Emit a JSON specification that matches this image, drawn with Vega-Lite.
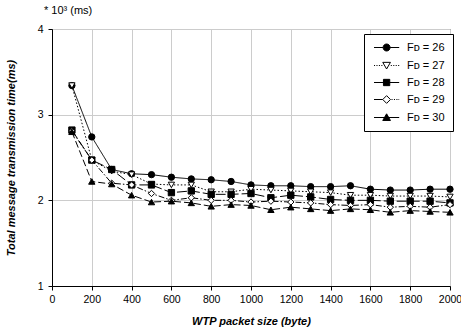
{
  "$schema": "https://vega.github.io/schema/vega-lite/v6.json",
  "width": 398,
  "height": 257,
  "autosize": {"type": "none"},
  "padding": {"left": 52, "top": 29, "right": 11, "bottom": 48},
  "background": "white",
  "config": {"font": "Liberation Sans", "view": {"stroke": "#404040", "strokeWidth": 1}},
  "title": {"text": "* 10³ (ms)", "anchor": "start", "frame": "group", "fontSize": 11, "fontWeight": "normal", "dx": -8, "offset": 8, "color": "black"},
  "data": {"values": [
    {"size": 100, "FD": "26", "time": 3.34}, {"size": 200, "FD": "26", "time": 2.74}, {"size": 300, "FD": "26", "time": 2.36}, {"size": 400, "FD": "26", "time": 2.31}, {"size": 500, "FD": "26", "time": 2.30}, {"size": 600, "FD": "26", "time": 2.27}, {"size": 700, "FD": "26", "time": 2.25}, {"size": 800, "FD": "26", "time": 2.24}, {"size": 900, "FD": "26", "time": 2.22}, {"size": 1000, "FD": "26", "time": 2.18}, {"size": 1100, "FD": "26", "time": 2.17}, {"size": 1200, "FD": "26", "time": 2.17}, {"size": 1300, "FD": "26", "time": 2.16}, {"size": 1400, "FD": "26", "time": 2.16}, {"size": 1500, "FD": "26", "time": 2.17}, {"size": 1600, "FD": "26", "time": 2.13}, {"size": 1700, "FD": "26", "time": 2.12}, {"size": 1800, "FD": "26", "time": 2.12}, {"size": 1900, "FD": "26", "time": 2.13}, {"size": 2000, "FD": "26", "time": 2.13},
    {"size": 100, "FD": "27", "time": 3.34}, {"size": 200, "FD": "27", "time": 2.47}, {"size": 300, "FD": "27", "time": 2.34}, {"size": 400, "FD": "27", "time": 2.30}, {"size": 500, "FD": "27", "time": 2.19}, {"size": 600, "FD": "27", "time": 2.18}, {"size": 700, "FD": "27", "time": 2.18}, {"size": 800, "FD": "27", "time": 2.10}, {"size": 900, "FD": "27", "time": 2.10}, {"size": 1000, "FD": "27", "time": 2.13}, {"size": 1100, "FD": "27", "time": 2.12}, {"size": 1200, "FD": "27", "time": 2.11}, {"size": 1300, "FD": "27", "time": 2.10}, {"size": 1400, "FD": "27", "time": 2.09}, {"size": 1500, "FD": "27", "time": 2.06}, {"size": 1600, "FD": "27", "time": 2.06}, {"size": 1700, "FD": "27", "time": 2.05}, {"size": 1800, "FD": "27", "time": 2.05}, {"size": 1900, "FD": "27", "time": 2.05}, {"size": 2000, "FD": "27", "time": 2.04},
    {"size": 100, "FD": "28", "time": 2.82}, {"size": 200, "FD": "28", "time": 2.47}, {"size": 300, "FD": "28", "time": 2.36}, {"size": 400, "FD": "28", "time": 2.18}, {"size": 500, "FD": "28", "time": 2.18}, {"size": 600, "FD": "28", "time": 2.09}, {"size": 700, "FD": "28", "time": 2.11}, {"size": 800, "FD": "28", "time": 2.07}, {"size": 900, "FD": "28", "time": 2.07}, {"size": 1000, "FD": "28", "time": 2.08}, {"size": 1100, "FD": "28", "time": 2.03}, {"size": 1200, "FD": "28", "time": 2.06}, {"size": 1300, "FD": "28", "time": 2.04}, {"size": 1400, "FD": "28", "time": 2.01}, {"size": 1500, "FD": "28", "time": 2.00}, {"size": 1600, "FD": "28", "time": 2.00}, {"size": 1700, "FD": "28", "time": 1.99}, {"size": 1800, "FD": "28", "time": 1.99}, {"size": 1900, "FD": "28", "time": 1.99}, {"size": 2000, "FD": "28", "time": 1.97},
    {"size": 100, "FD": "29", "time": 2.81}, {"size": 200, "FD": "29", "time": 2.47}, {"size": 300, "FD": "29", "time": 2.20}, {"size": 400, "FD": "29", "time": 2.18}, {"size": 500, "FD": "29", "time": 2.08}, {"size": 600, "FD": "29", "time": 2.00}, {"size": 700, "FD": "29", "time": 2.03}, {"size": 800, "FD": "29", "time": 2.00}, {"size": 900, "FD": "29", "time": 2.00}, {"size": 1000, "FD": "29", "time": 1.98}, {"size": 1100, "FD": "29", "time": 1.99}, {"size": 1200, "FD": "29", "time": 1.98}, {"size": 1300, "FD": "29", "time": 1.97}, {"size": 1400, "FD": "29", "time": 1.95}, {"size": 1500, "FD": "29", "time": 1.94}, {"size": 1600, "FD": "29", "time": 1.95}, {"size": 1700, "FD": "29", "time": 1.92}, {"size": 1800, "FD": "29", "time": 1.93}, {"size": 1900, "FD": "29", "time": 1.92}, {"size": 2000, "FD": "29", "time": 1.95},
    {"size": 100, "FD": "30", "time": 2.80}, {"size": 200, "FD": "30", "time": 2.22}, {"size": 300, "FD": "30", "time": 2.19}, {"size": 400, "FD": "30", "time": 2.06}, {"size": 500, "FD": "30", "time": 1.98}, {"size": 600, "FD": "30", "time": 1.99}, {"size": 700, "FD": "30", "time": 1.97}, {"size": 800, "FD": "30", "time": 1.93}, {"size": 900, "FD": "30", "time": 1.95}, {"size": 1000, "FD": "30", "time": 1.94}, {"size": 1100, "FD": "30", "time": 1.89}, {"size": 1200, "FD": "30", "time": 1.92}, {"size": 1300, "FD": "30", "time": 1.90}, {"size": 1400, "FD": "30", "time": 1.88}, {"size": 1500, "FD": "30", "time": 1.90}, {"size": 1600, "FD": "30", "time": 1.89}, {"size": 1700, "FD": "30", "time": 1.86}, {"size": 1800, "FD": "30", "time": 1.88}, {"size": 1900, "FD": "30", "time": 1.87}, {"size": 2000, "FD": "30", "time": 1.86}
  ]},
  "encoding": {
    "x": {"field": "size", "type": "quantitative", "scale": {"domain": [0, 2000], "nice": false},
      "axis": {"values": [0, 200, 400, 600, 800, 1000, 1200, 1400, 1600, 1800, 2000], "format": "d", "title": "WTP packet size (byte)", "titleFontStyle": "italic", "titleFontWeight": "bold", "titleFontSize": 11, "titleColor": "black", "labelFontSize": 10.5, "labelColor": "black", "labelFlush": false, "domainColor": "black", "tickColor": "black", "tickSize": 4, "labelPadding": 4, "titlePadding": 11, "grid": true, "gridColor": "#cccccc"}},
    "y": {"field": "time", "type": "quantitative", "scale": {"domain": [1, 4], "nice": false, "zero": false},
      "axis": {"values": [1, 2, 3, 4], "title": "Total message transmission time(ms)", "titleFontStyle": "italic", "titleFontWeight": "bold", "titleFontSize": 11, "titleColor": "black", "labelFontSize": 10.5, "labelColor": "black", "domainColor": "black", "tickColor": "black", "tickSize": 4, "labelPadding": 5, "titlePadding": 21, "grid": true, "gridColor": "#cccccc"}}
  },
  "layer": [
    {
      "mark": {"type": "line", "strokeWidth": 1, "color": "black"},
      "encoding": {
        "detail": {"field": "FD", "type": "nominal"},
        "strokeDash": {"condition": [
          {"test": "datum.FD === '27'", "value": [1.5, 2]},
          {"test": "datum.FD === '28'", "value": [10, 3]},
          {"test": "datum.FD === '29'", "value": [6, 2, 1.5, 2]},
          {"test": "datum.FD === '30'", "value": [7, 3]}
        ], "value": [1, 0]}
      }
    },
    {
      "mark": {"type": "point", "filled": true, "stroke": "black", "strokeWidth": 1, "size": 40, "opacity": 1},
      "encoding": {
        "shape": {"condition": [
          {"test": "datum.FD === '27'", "value": "triangle-down"},
          {"test": "datum.FD === '28'", "value": "square"},
          {"test": "datum.FD === '29'", "value": "diamond"},
          {"test": "datum.FD === '30'", "value": "triangle-up"}
        ], "value": "circle"},
        "fill": {"condition": {"test": "datum.FD === '27' || datum.FD === '29'", "value": "white"}, "value": "black"}
      }
    },
    {
      "transform": [{"filter": "datum.size < 0"}],
      "mark": {"type": "point", "filled": true, "stroke": "black", "strokeWidth": 1, "size": 49, "opacity": 1},
      "encoding": {
        "shape": {"field": "FD", "type": "nominal",
          "scale": {"domain": ["26", "27", "28", "29", "30"], "range": [
            "M-1,0H1.6M3.6,0H6.2M1.6,0A1,1,0,1,1,3.6,0A1,1,0,1,1,1.6,0Z",
            "M-1,0h0.3M-0.3,0h0.3M0.4,0h0.3M1.1,0h0.3M3.8,0h0.3M4.5,0h0.3M5.2,0h0.3M5.9,0h0.3M1.5,-0.9L3.7,-0.9L2.6,1Z",
            "M-1,0H6.2M1.7,-0.9H3.5V0.9H1.7Z",
            "M-1,0H1.5M4,0h0.3M4.7,0h0.3M5.4,0h0.3M6,0h0.2M1.5,0L2.6,-1.1L3.7,0L2.6,1.1Z",
            "M-1,0H6.2M1.5,0.85L3.7,0.85L2.6,-1.05Z"
          ]},
          "legend": {"orient": "none", "legendX": 312, "legendY": 5, "title": null, "fillColor": "white", "strokeColor": "black", "padding": 8, "symbolSize": 49, "symbolStrokeWidth": 1, "symbolOpacity": 1, "labelFontSize": 11, "labelColor": "black", "rowPadding": 5, "labelOffset": 24, "labelExpr": "'Fᴅ = ' + datum.label"}},
        "fill": {"field": "FD", "type": "nominal",
          "scale": {"domain": ["26", "27", "28", "29", "30"], "range": ["black", "white", "black", "white", "black"]},
          "legend": {"orient": "none", "legendX": 312, "legendY": 5, "title": null, "fillColor": "white", "strokeColor": "black", "padding": 8, "symbolSize": 49, "symbolStrokeWidth": 1, "symbolOpacity": 1, "labelFontSize": 11, "labelColor": "black", "rowPadding": 5, "labelOffset": 24, "labelExpr": "'Fᴅ = ' + datum.label"}}
      }
    }
  ]
}
